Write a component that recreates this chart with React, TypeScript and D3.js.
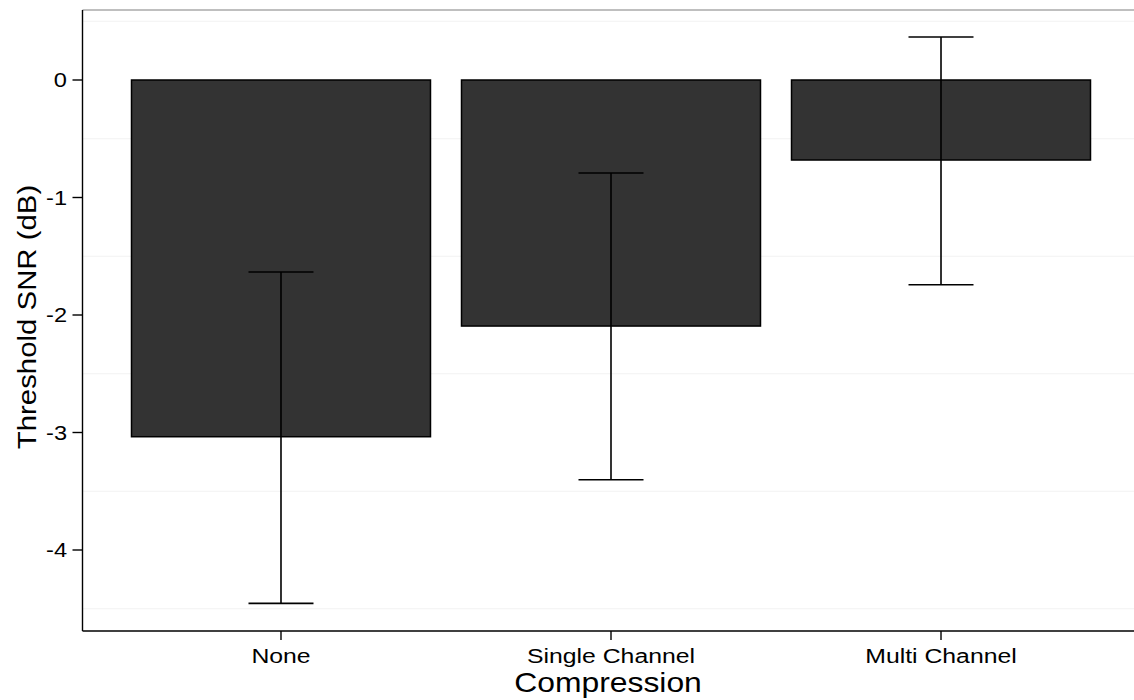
import { useEffect, useRef } from 'react';
import * as d3 from 'd3';

// data
const categories = ['None', 'Single Channel', 'Multi Channel'];
const means = [-3.036, -2.094, -0.681];
const upper = [-1.634, -0.791, 0.366];
const lower = [-4.454, -3.402, -1.742];
const yTicks = [0, -1, -2, -3, -4];
const gridValues = [0.5, -0.5, -1.5, -2.5, -3.5, -4.5];

const width = 1134;
const height = 700;
const plot = { left: 82.5, right: 1134, top: 10, bottom: 631 };
const font = 'Liberation Sans, Arial, Helvetica, sans-serif';
const stretch = 1.18; // the reference text is drawn a bit wide

const App = () => {
    const svgRef = useRef<SVGSVGElement>(null);

    useEffect(() => {
        const svg = d3.select(svgRef.current);
        svg.selectAll('*').remove();

        const x = d3
            .scaleBand()
            .domain(categories)
            .range([plot.left - 0.5, 1140])
            .paddingInner(0.094)
            .paddingOuter(0.15);

        const y = d3.scaleLinear().domain([0, -4]).range([80, 550]);

        svg.append('rect')
            .attr('width', width)
            .attr('height', height)
            .attr('fill', '#fff');

        // faint gridlines
        svg.append('g')
            .selectAll('line')
            .data(gridValues)
            .join('line')
            .attr('x1', plot.left)
            .attr('x2', plot.right)
            .attr('y1', d => y(d))
            .attr('y2', d => y(d))
            .attr('stroke', '#f2f2f2')
            .attr('stroke-width', 1.2);

        // top frame line
        svg.append('line')
            .attr('x1', plot.left)
            .attr('x2', plot.right)
            .attr('y1', plot.top)
            .attr('y2', plot.top)
            .attr('stroke', '#808080')
            .attr('stroke-width', 1.2);

        const rows = categories.map((c, i) => ({
            name: c,
            mean: means[i],
            hi: upper[i],
            lo: lower[i],
        }));

        // bars
        svg.append('g')
            .selectAll('rect')
            .data(rows)
            .join('rect')
            .attr('x', d => x(d.name) ?? 0)
            .attr('width', x.bandwidth())
            .attr('y', y(0))
            .attr('height', d => y(d.mean) - y(0))
            .attr('fill', '#333333')
            .attr('stroke', '#000')
            .attr('stroke-width', 1.5);

        // error bars
        const capHalf = 32.5;
        const err = svg.append('g').attr('stroke', '#000').attr('stroke-width', 1.6);
        rows.forEach(d => {
            const cx = (x(d.name) ?? 0) + x.bandwidth() / 2;
            err.append('line')
                .attr('x1', cx)
                .attr('x2', cx)
                .attr('y1', y(d.hi))
                .attr('y2', y(d.lo));
            [d.hi, d.lo].forEach(v => {
                err.append('line')
                    .attr('x1', cx - capHalf)
                    .attr('x2', cx + capHalf)
                    .attr('y1', y(v))
                    .attr('y2', y(v));
            });
        });

        // y axis
        const yAxis = svg.append('g');
        yAxis.append('line')
            .attr('x1', plot.left)
            .attr('x2', plot.left)
            .attr('y1', plot.top)
            .attr('y2', plot.bottom)
            .attr('stroke', '#000')
            .attr('stroke-width', 1.4);
        const yt = yAxis
            .selectAll('.ytick')
            .data(yTicks)
            .join('g')
            .attr('class', 'ytick')
            .attr('transform', d => `translate(0,${y(d)})`);
        yt.append('line')
            .attr('x1', plot.left - 10)
            .attr('x2', plot.left)
            .attr('stroke', '#000')
            .attr('stroke-width', 1.4);
        yt.append('text')
            .attr('transform', `translate(67,7) scale(${stretch},1)`)
            .attr('text-anchor', 'end')
            .attr('font-family', font)
            .attr('font-size', 20)
            .text(d => (d === 0 ? '0' : `-${Math.abs(d)}`));

        // x axis
        const xAxis = svg.append('g');
        xAxis.append('line')
            .attr('x1', plot.left)
            .attr('x2', plot.right)
            .attr('y1', plot.bottom)
            .attr('y2', plot.bottom)
            .attr('stroke', '#000')
            .attr('stroke-width', 1.4);
        const xt = xAxis
            .selectAll('.xtick')
            .data(categories)
            .join('g')
            .attr('class', 'xtick')
            .attr('transform', d => `translate(${(x(d) ?? 0) + x.bandwidth() / 2},0)`);
        xt.append('line')
            .attr('y1', plot.bottom)
            .attr('y2', plot.bottom + 9)
            .attr('stroke', '#000')
            .attr('stroke-width', 1.4);
        xt.append('text')
            .attr('transform', `translate(0,663) scale(${stretch},1)`)
            .attr('text-anchor', 'middle')
            .attr('font-family', font)
            .attr('font-size', 21)
            .text(d => d);

        // axis titles
        svg.append('text')
            .attr('transform', `translate(608,692) scale(${stretch},1)`)
            .attr('text-anchor', 'middle')
            .attr('font-family', font)
            .attr('font-size', 27)
            .text('Compression');

        svg.append('text')
            .attr('transform', `translate(36,317) rotate(-90) scale(1.13,1)`)
            .attr('text-anchor', 'middle')
            .attr('font-family', font)
            .attr('font-size', 26)
            .text('Threshold SNR (dB)');
    }, []);

    return (
        <svg
            ref={svgRef}
            width={width}
            height={height}
            style={{ position: 'fixed', top: 0, left: 0, display: 'block' }}
        ></svg>
    );
};

export default App;
